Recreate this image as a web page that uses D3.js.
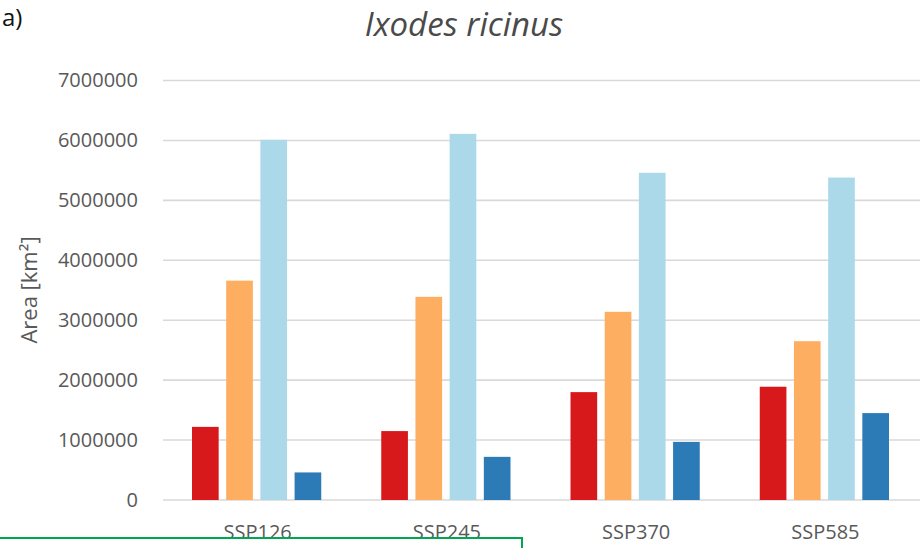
<!DOCTYPE html>
<html>
<head>
<meta charset="utf-8">
<script src="https://cdn.jsdelivr.net/npm/d3@7"></script>
<style>
  html, body { margin: 0; padding: 0; background: #fff; }
  svg { display: block; }
</style>
</head>
<body>
<svg id="chart" width="922" height="548"></svg>
<script>
const categories = ["SSP126", "SSP245", "SSP370", "SSP585"];
const seriesNames = ["s1", "s2", "s3", "s4"];
const seriesColors = ["#d7191c", "#fdae61", "#abd9e9", "#2c7bb6"];
const s1 = [1220000, 1150000, 1800000, 1890000];
const s2 = [3660000, 3390000, 3140000, 2650000];
const s3 = [6010000, 6110000, 5460000, 5380000];
const s4 = [460000, 720000, 970000, 1450000];
const yTicks = [0, 1000000, 2000000, 3000000, 4000000, 5000000, 6000000, 7000000];
const title = "Ixodes ricinus";
const panelLabel = "a)";

const series = [s1, s2, s3, s4];
const svg = d3.select("#chart");
const font = "'Open Sans', 'DejaVu Sans', sans-serif";
const grey = "#595959";

const plot = { left: 163, right: 920, top: 80.5, bottom: 500 };

const x0 = d3.scaleBand().domain(categories).range([plot.left, plot.right]).paddingInner(0).paddingOuter(0);
const x1 = d3.scaleBand().domain(seriesNames).range([29, x0.bandwidth() - 31]).paddingInner(0.22).paddingOuter(0);
const y = d3.scaleLinear().domain([0, 7000000]).range([plot.bottom, plot.top]);

// gridlines
svg.append("g").selectAll("line").data(yTicks).join("line")
  .attr("x1", plot.left).attr("x2", plot.right)
  .attr("y1", d => y(d)).attr("y2", d => y(d))
  .attr("stroke", "#d9d9d9").attr("stroke-width", 1.6);

// y axis labels
const yAxis = d3.axisLeft(y).tickValues(yTicks).tickSize(0).tickPadding(0).tickFormat(d3.format("d"));
const yg = svg.append("g").attr("transform", `translate(138,0)`).call(yAxis);
yg.select(".domain").remove();
yg.selectAll("text").attr("font-family", font).attr("font-size", 20).attr("fill", grey);

// bars
const groups = svg.append("g").selectAll("g").data(categories).join("g")
  .attr("transform", d => `translate(${x0(d)},0)`);
groups.selectAll("rect").data((c, i) => series.map((s, j) => ({ name: seriesNames[j], v: s[i], color: seriesColors[j] })))
  .join("rect")
  .attr("x", d => x1(d.name))
  .attr("width", x1.bandwidth())
  .attr("y", d => y(d.v))
  .attr("height", d => y(0) - y(d.v))
  .attr("fill", d => d.color);

// x axis labels
const xAxis = d3.axisBottom(x0).tickSize(0).tickPadding(0);
const xg = svg.append("g").attr("transform", `translate(0,${plot.bottom + 39})`).call(xAxis);
xg.select(".domain").remove();
xg.selectAll("text").attr("dy", 0).attr("font-family", font).attr("font-size", 20).attr("fill", grey);

// y axis title
svg.append("text")
  .attr("transform", `translate(37,290) rotate(-90)`)
  .attr("text-anchor", "middle")
  .attr("font-family", font).attr("font-size", 22).attr("fill", grey)
  .text("Area [km²]");

// title
svg.append("text")
  .attr("x", 464).attr("y", 36)
  .attr("text-anchor", "middle")
  .attr("font-family", font).attr("font-size", 33).attr("font-style", "italic").attr("fill", "#4a4a4a")
  .text(title);

// panel label
svg.append("text")
  .attr("x", 2).attr("y", 26)
  .attr("font-family", font).attr("font-size", 24).attr("fill", "#111")
  .text(panelLabel);

// green frame
svg.append("rect")
  .attr("x", -2).attr("y", 538).attr("width", 524).attr("height", 40)
  .attr("fill", "none").attr("stroke", "#00a651").attr("stroke-width", 2);
</script>
</body>
</html>
